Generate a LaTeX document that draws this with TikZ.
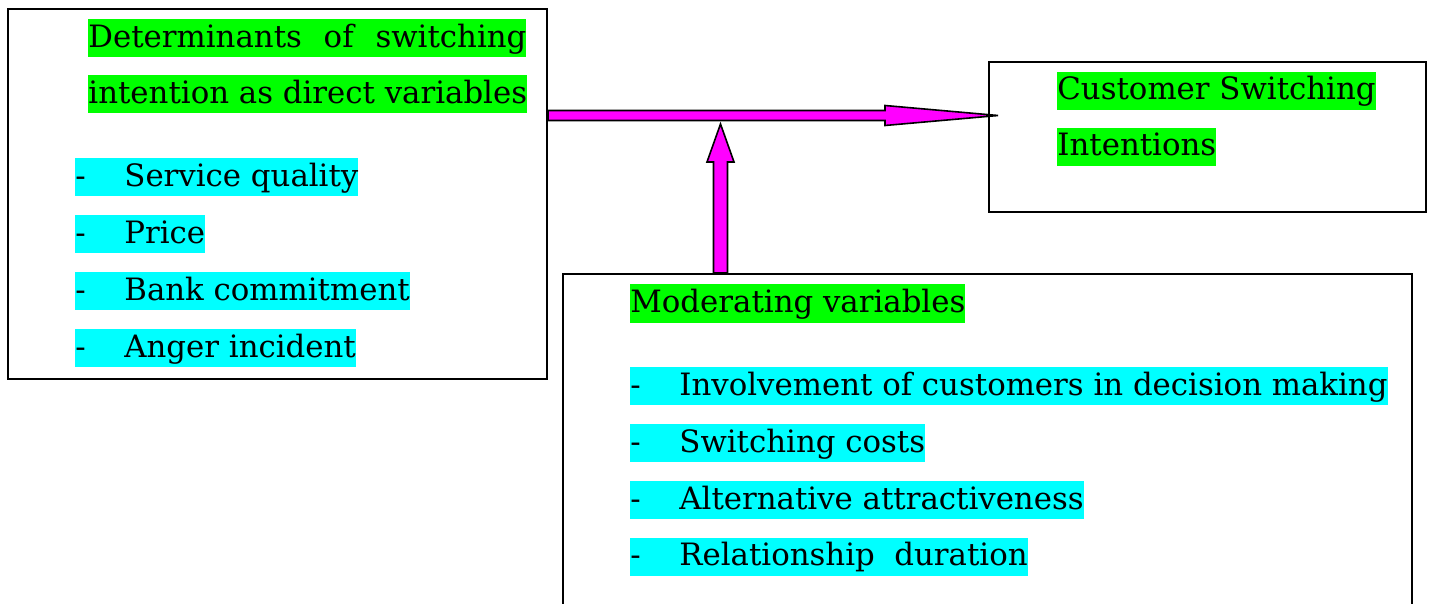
\documentclass[tikz,border=0pt]{standalone}
\usepackage{fontspec}
\setmainfont{DejaVu Serif}
\usetikzlibrary{positioning,calc}

\definecolor{hlgreen}{RGB}{0,255,0}
\definecolor{hlcyan}{RGB}{0,255,255}
\definecolor{arrmag}{RGB}{255,0,255}

\tikzset{
  frame/.style={draw, line width=1pt, inner sep=0pt, anchor=north west},
  hl/.style={anchor=west, inner sep=0pt, text height=14pt, text depth=5pt, font=\fontsize{15.4}{18}\selectfont},
  head/.style={hl, fill=hlgreen},
  item/.style={hl, fill=hlcyan},
  fatarrow/.style={draw, line width=0.8pt, fill=arrmag, line join=miter}
}
\newcommand{\dashitem}[1]{\makebox[24.5pt][l]{-}#1}

\begin{document}
\begin{tikzpicture}[x=0.5pt,y=-0.5pt]
	\useasboundingbox (0,0) rectangle (1429,604);
	% boxes
	\node[frame, minimum width=269.5pt, minimum height=185pt] (det) at (7,8) {};
	\node[frame, minimum width=218.5pt, minimum height=75pt] (cust) at (988,61) {};
	\node[frame, minimum width=424.5pt, minimum height=190pt] (mod) at (562,273) {};
	% direct variables
	\node[head] (dethead) at (88,38.5) {\makebox[219pt][s]{Determinants of switching}};
	\node[head] (dethead2) at (88,94.5) {intention as direct variables};
	\node[item] (sq) at (75,177.5) {\dashitem{Service quality}};
	\node[item] (pr) at (75,234) {\dashitem{Price}};
	\node[item] (bc) at (75,291) {\dashitem{Bank commitment}};
	\node[item] (ai) at (75,348) {\dashitem{Anger incident}};
	% outcome
	\node[head] (custhead) at (1057,91) {Customer Switching};
	\node[head] (custhead2) at (1057,147) {Intentions};
	% moderators
	\node[head] (modhead) at (630,303.5) {Moderating variables};
	\node[item] (inv) at (630,386) {\dashitem{Involvement of customers in decision making}};
	\node[item] (sc) at (630,443) {\dashitem{Switching costs}};
	\node[item] (aa) at (630,500) {\dashitem{Alternative attractiveness}};
	\node[item] (rd) at (630,556.5) {\dashitem{Relationship~ duration}};
	% arrows
	\coordinate (hstart) at (det.east |- 0,115.5);
	\coordinate (htip) at ($(cust.west |- hstart)+(10,0)$);
	\draw[fatarrow] ($(hstart)+(0,-5)$) -- ($(htip)+(-113,-5)$) -- ($(htip)+(-113,-10)$)
		-- (htip) -- ($(htip)+(-113,10)$) -- ($(htip)+(-113,5)$) -- ($(hstart)+(0,5)$) -- cycle;
	\coordinate (vbase) at (720.5,0 |- mod.north);
	\coordinate (vtip) at (720.5,124);
	\draw[fatarrow] ($(vbase)+(-7,0)$) -- ($(vtip)+(-7,38)$) -- ($(vtip)+(-13.5,38)$)
		-- (vtip) -- ($(vtip)+(13.5,38)$) -- ($(vtip)+(7,38)$) -- ($(vbase)+(7,0)$) -- cycle;
\end{tikzpicture}
\end{document}
